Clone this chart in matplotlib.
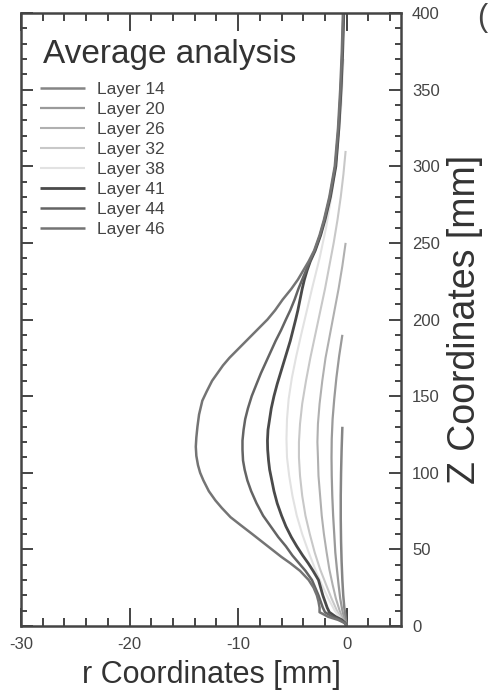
import matplotlib
matplotlib.use("Agg")
import matplotlib.pyplot as plt
from matplotlib.ticker import MultipleLocator

plt.rcParams['font.family'] = ['Liberation Sans', 'DejaVu Sans']
plt.rcParams['axes.unicode_minus'] = False

# layer names and their gray levels
layers = ['Layer 14', 'Layer 20', 'Layer 26', 'Layer 32', 'Layer 38', 'Layer 41', 'Layer 44', 'Layer 46']
colors = ['#858585', '#9a9a9a', '#b0b0b0', '#c8c8c8', '#e2e2e2', '#4a4a4a', '#646464', '#747474']

# Z coordinates [mm] and r coordinates [mm]
z14 = [0, 5, 12, 20, 30, 42, 55, 70, 85, 100, 115, 130]
r14 = [0, -0.1, -0.22, -0.32, -0.4, -0.47, -0.52, -0.55, -0.55, -0.52, -0.47, -0.4]

z20 = [0, 4, 10, 18, 27, 37, 48, 60, 72, 85, 98, 110, 122, 135, 148, 162, 176, 190]
r20 = [0, -0.2, -0.4, -0.6, -0.75, -0.9, -1.05, -1.15, -1.25, -1.33, -1.38, -1.4, -1.38, -1.3, -1.15,
       -0.95, -0.7, -0.4]

z26 = [0, 4, 10, 18, 27, 37, 48, 60, 72, 85, 98, 110, 120, 132, 145, 160, 175, 190, 205, 220, 235, 250]
r26 = [0, -0.3, -0.65, -1.0, -1.3, -1.6, -1.85, -2.1, -2.3, -2.45, -2.6, -2.65, -2.7, -2.65, -2.5, -2.25,
       -1.95, -1.55, -1.15, -0.75, -0.4, -0.1]

z32 = [0, 4, 10, 18, 27, 37, 48, 60, 72, 85, 98, 110, 120, 132, 145, 160, 175, 190, 205, 220, 235, 250,
       265, 280, 295, 310]
r32 = [0, -0.4, -0.9, -1.4, -1.9, -2.45, -2.95, -3.4, -3.8, -4.1, -4.3, -4.4, -4.4, -4.3, -4.1, -3.75,
       -3.35, -2.9, -2.45, -2.0, -1.6, -1.2, -0.85, -0.55, -0.3, -0.1]

z38 = [0, 4, 10, 18, 27, 37, 48, 60, 72, 85, 98, 110, 122, 135, 148, 162, 176, 190, 205, 220, 240, 260,
       285, 310, 340, 370]
r38 = [0, -0.5, -1.1, -1.7, -2.3, -2.9, -3.5, -4.1, -4.6, -5.0, -5.3, -5.5, -5.55, -5.5, -5.35, -5.05,
       -4.65, -4.2, -3.7, -3.2, -2.5, -1.9, -1.3, -0.85, -0.5, -0.3]

z41 = [0, 2, 4, 6, 9, 12, 16, 20, 25, 30, 36, 41, 46, 52, 58, 65, 72, 80, 88, 95, 102, 108, 115, 121,
       128, 135, 142, 150, 158, 165, 172, 179, 186, 193, 200, 206, 213, 220, 226, 232, 238, 245, 255,
       265, 280, 300, 325, 350, 375, 400]
r41 = [0, -0.15, -0.45, -1.0, -1.6, -1.8, -2.0, -2.2, -2.4, -2.6, -3.1, -3.55, -4.05, -4.6, -5.1, -5.6,
       -6.0, -6.4, -6.7, -6.9, -7.1, -7.2, -7.28, -7.3, -7.25, -7.1, -6.95, -6.7, -6.4, -6.1, -5.8, -5.5,
       -5.2, -4.95, -4.7, -4.5, -4.3, -4.1, -3.9, -3.65, -3.35, -2.9, -2.4, -2.0, -1.5, -1.0, -0.72,
       -0.52, -0.37, -0.27]

z44 = [0, 2, 4, 6, 9, 12, 16, 20, 25, 30, 36, 41, 46, 52, 58, 65, 72, 80, 88, 95, 102, 108, 115, 121,
       128, 135, 142, 150, 158, 165, 172, 179, 186, 193, 200, 206, 213, 220, 226, 232, 238, 245, 255,
       265, 280, 300, 325, 350, 375, 400]
r44 = [0, -0.2, -0.6, -1.3, -2.0, -2.2, -2.4, -2.6, -2.9, -3.2, -3.8, -4.4, -5.0, -5.6, -6.3, -7.0,
       -7.7, -8.3, -8.8, -9.15, -9.4, -9.55, -9.6, -9.6, -9.5, -9.35, -9.1, -8.75, -8.3, -7.9, -7.45,
       -7.0, -6.55, -6.05, -5.6, -5.2, -4.8, -4.45, -4.1, -3.75, -3.4, -2.95, -2.45, -2.05, -1.55,
       -1.05, -0.75, -0.55, -0.4, -0.3]

z46 = [0, 2, 4, 6, 9, 12, 16, 20, 25, 30, 36, 41, 45, 50, 55, 60, 66, 71, 77, 82, 88, 95, 100, 105,
       111, 117, 123, 130, 138, 147, 153, 160, 165, 170, 175, 180, 185, 190, 195, 200, 206, 213, 220,
       226, 232, 238, 245, 255, 265, 280, 300, 325, 350, 375, 400]
r46 = [0, -0.2, -0.8, -1.7, -2.5, -2.5, -2.6, -2.75, -3.05, -3.5, -4.3, -5.2, -6.0, -6.9, -7.8, -8.7,
       -9.8, -10.7, -11.5, -12.1, -12.7, -13.2, -13.5, -13.7, -13.85, -13.9, -13.85, -13.75, -13.6,
       -13.3, -12.9, -12.4, -11.9, -11.4, -10.8, -10.1, -9.4, -8.7, -8.0, -7.3, -6.6, -5.9, -5.1,
       -4.5, -4.0, -3.5, -3.0, -2.5, -2.1, -1.6, -1.1, -0.8, -0.6, -0.45, -0.35]

zs = [z14, z20, z26, z32, z38, z41, z44, z46]
rs = [r14, r20, r26, r32, r38, r41, r44, r46]
widths = [1.8, 1.6, 1.5, 1.5, 1.5, 2.0, 1.8, 1.8]

fig = plt.figure(figsize=(4.89, 6.99), dpi=100)
ax = fig.add_axes([21 / 489, 73 / 699, 380 / 489, 613 / 699])

for name, r, z, c, lw in zip(layers, rs, zs, colors, widths):
    ax.plot(r, z, color=c, lw=lw, label=name, solid_capstyle='butt', solid_joinstyle='round')

ax.set_xlim(-30, 5)
ax.set_ylim(0, 400)
ax.xaxis.set_major_locator(MultipleLocator(10))
ax.xaxis.set_minor_locator(MultipleLocator(2))
ax.yaxis.set_major_locator(MultipleLocator(50))
ax.yaxis.set_minor_locator(MultipleLocator(10))

ax.tick_params(axis='x', which='both', direction='in', top=True, bottom=True,
               width=1.4, color='#444444', labelsize=12, labelcolor='#444444', pad=8)
ax.tick_params(axis='x', which='major', length=13)
ax.tick_params(axis='x', which='minor', length=6)
ax.tick_params(axis='y', which='both', direction='in', left=True, right=True,
               labelleft=False, labelright=True, width=1.4, color='#444444',
               labelsize=12, labelcolor='#444444', pad=8)
ax.tick_params(axis='y', which='major', length=8.5)
ax.tick_params(axis='y', which='minor', length=4)
for sp in ax.spines.values():
    sp.set_linewidth(1.8)
    sp.set_color('#444444')

ax.set_xlabel('r Coordinates [mm]', fontsize=22, color='#333333', labelpad=6)
ax.yaxis.set_label_position('right')
ax.set_ylabel('Z Coordinates [mm]', fontsize=27, color='#333333', labelpad=5)

ax.text(0.058, 0.918, 'Average analysis', transform=ax.transAxes, fontsize=24,
        color='#333333', ha='left', va='baseline')

ax.legend(loc='upper left', bbox_to_anchor=(0.05, 0.888), frameon=False, fontsize=12.5,
          borderpad=0, borderaxespad=0, handlelength=2.6, handletextpad=0.7,
          labelspacing=0.28, labelcolor='#444444')

fig.text(0.975, 0.995, '(b)', fontsize=22, color='#444444', ha='left', va='top')

fig.savefig('out.png', dpi=100)
